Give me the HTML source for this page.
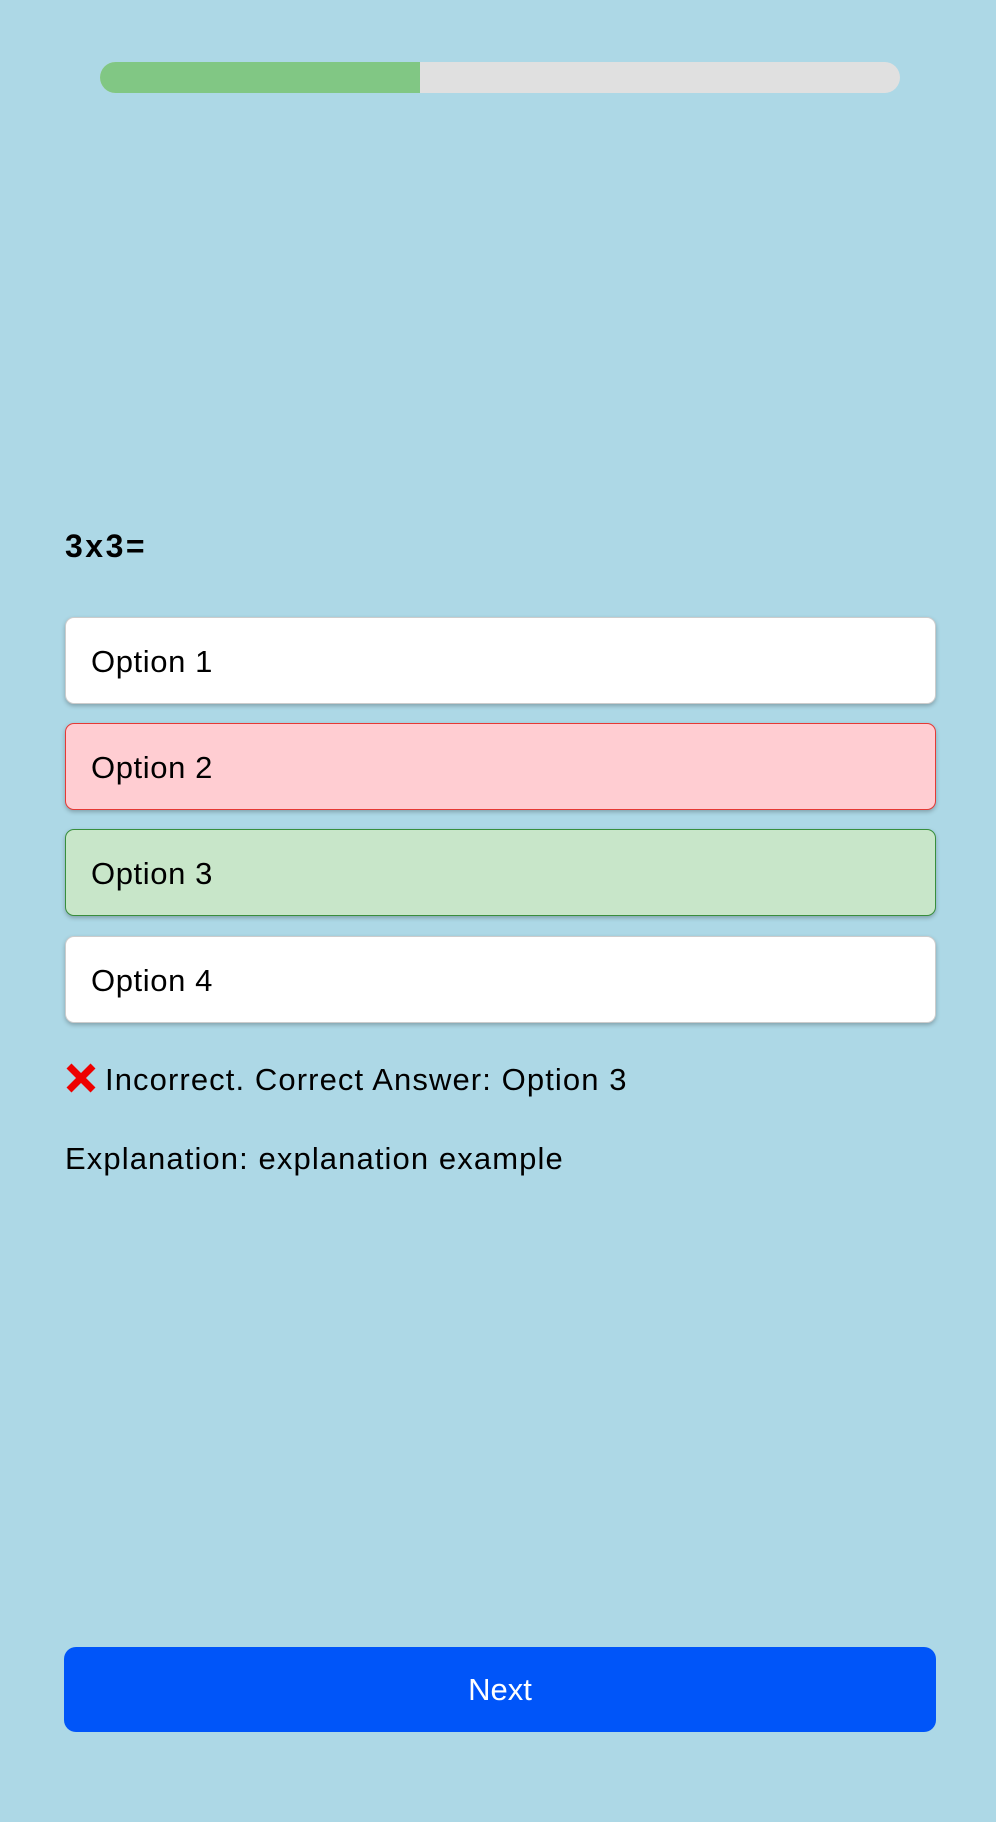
<!DOCTYPE html>
<html><head><style>
html,body{margin:0;padding:0;}
body{width:996px;height:1822px;background:#add8e6;position:relative;overflow:hidden;font-family:"Liberation Sans",sans-serif;color:#000;}
.bar{position:absolute;left:100px;top:62px;width:800px;height:31px;border-radius:16px;background:#e0e0e0;overflow:hidden;}
.bar div{width:320px;height:100%;background:#81c784;}
.q{position:absolute;left:65px;top:528px;font-size:32px;font-weight:bold;letter-spacing:2.5px;}
.opt{position:absolute;left:65px;width:844px;height:85px;border-radius:9px;background:#fff;border:1px solid #ccc;box-shadow:0 2px 4px rgba(0,0,0,0.25);font-size:31px;letter-spacing:0.6px;line-height:87px;padding-left:25px;box-sizing:content-box;}
.t{position:absolute;left:65px;font-size:31px;letter-spacing:1.1px;}
.next{position:absolute;left:64px;top:1647px;width:872px;height:85px;border-radius:12px;background:#0055f9;color:#fff;font-size:31px;text-align:center;line-height:85px;}
</style></head><body>
<div class="bar"><div></div></div>
<div class="q">3x3=</div>
<div class="opt" style="top:617px;">Option 1</div>
<div class="opt" style="top:723px;background:#ffcdd2;border-color:#e53935;">Option 2</div>
<div class="opt" style="top:829px;background:#c8e6c9;border-color:#388e3c;">Option 3</div>
<div class="opt" style="top:936px;">Option 4</div>
<div class="t" style="top:1062px;"><svg width="32" height="32" viewBox="0 0 32 32" style="vertical-align:-4px;margin-right:8px"><path d="M4 4L28 28M28 4L4 28" stroke="#e00" stroke-width="7"/></svg>Incorrect. Correct Answer: Option 3</div>
<div class="t" style="top:1141px;">Explanation: explanation example</div>
<div class="next">Next</div>
</body></html>
